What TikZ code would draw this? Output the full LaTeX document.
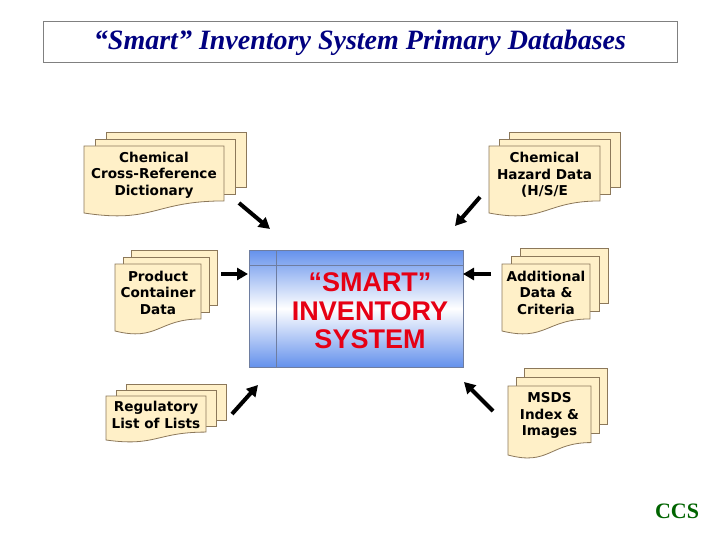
\documentclass[tikz,border=0pt]{standalone}
\usepackage{fontspec}
\setmainfont{Liberation Serif}
\newfontfamily\docfont{DejaVu Sans}
\newfontfamily\boxfont{Liberation Sans}
\usetikzlibrary{arrows.meta}
\definecolor{sheetfill}{RGB}{255,240,200}
\definecolor{sheetline}{RGB}{140,120,90}
\definecolor{navytitle}{RGB}{0,0,128}
\definecolor{boxblue}{RGB}{100,145,236}
\definecolor{boxline}{RGB}{110,125,160}
\definecolor{smartred}{RGB}{230,0,20}
\definecolor{ccsgreen}{RGB}{0,100,0}
\tikzset{
  docsheet/.style={fill=sheetfill, draw=sheetline, line width=0.8pt},
  doctext/.style={align=center, font=\docfont\bfseries\fontsize{13.6}{16.5}\selectfont, inner sep=0pt},
  arr/.style={line width=4pt, -{Triangle[length=11pt,width=12pt]}},
}
% name, x, y, w, h, dx, dy, text
\newcommand{\mdoc}[8]{%
  \path[docsheet] ({#2+2*#6},{#3-2*#7}) rectangle ({#2+#4+2*#6},{#3+0.82*#5-2*#7});
  \path[docsheet] ({#2+#6},{#3-#7}) rectangle ({#2+#4+#6},{#3+0.82*#5-#7});
  \path[docsheet] (#2,#3) -- ({#2+#4},#3) -- ({#2+#4},{#3+0.82*#5})
     .. controls ({#2+0.5*#4},{#3+0.82*#5}) and ({#2+0.5*#4},{#3+1.16*#5}) .. (#2,{#3+#5}) -- cycle;
  \node[doctext] (#1) at ({#2+0.5*#4},{#3+0.43*#5}) {#8};
}
\begin{document}
\begin{tikzpicture}[x=1pt,y=-1pt]
\useasboundingbox[fill=white] (0,0) rectangle (720,540);
% title
\node[draw={rgb,255:red,128;green,128;blue,128}, line width=1pt, minimum width=634pt, minimum height=41pt, inner sep=0pt,
  font=\bfseries\itshape\fontsize{28}{32}\selectfont, text=navytitle] (title) at (360,42.5)
  {“Smart” Inventory System Primary Databases};
% documents
\mdoc{crossref}{84}{146}{140}{67}{11}{7}{Chemical\\Cross-Reference\\Dictionary}
\mdoc{hazard}{489}{146}{111}{67}{10}{7}{Chemical\\Hazard Data\\(H/S/E}
\mdoc{product}{115}{264}{86}{67}{8}{7}{Product\\Container\\Data}
\mdoc{additional}{502}{264}{88}{67}{9}{8}{Additional\\Data \&\\Criteria}
\mdoc{regulatory}{106}{396}{100}{44}{10}{6}{Regulatory\\List of Lists}
\mdoc{msds}{508}{386}{83}{69}{8}{9}{MSDS\\Index \&\\Images}
% central box
\shade[top color=boxblue, bottom color=boxblue, middle color=white] (249,250) rectangle (463,367);
\draw[boxline, line width=0.8pt] (249,250) rectangle (463,367);
\draw[boxline, line width=0.8pt] (276,250) -- (276,367);
\draw[boxline, line width=0.8pt] (249,265) -- (463,265);
\node[align=center, text=smartred, font=\boxfont\bfseries\fontsize{27}{28.5}\selectfont, inner sep=0pt] (smart) at (370,311)
  {“SMART”\\INVENTORY\\SYSTEM};
% arrows
\coordinate (a1s) at (239,203); \coordinate (a1e) at (270,229);
\coordinate (a2s) at (480,197); \coordinate (a2e) at (455,226);
\coordinate (a3s) at (221,274); \coordinate (a3e) at (248,274);
\coordinate (a4s) at (491,274); \coordinate (a4e) at (463,274);
\coordinate (a5s) at (232,414); \coordinate (a5e) at (258,385);
\coordinate (a6s) at (493,411); \coordinate (a6e) at (464,382);
\draw[arr] (a1s) -- (a1e);
\draw[arr] (a2s) -- (a2e);
\draw[arr] (a3s) -- (a3e);
\draw[arr] (a4s) -- (a4e);
\draw[arr] (a5s) -- (a5e);
\draw[arr] (a6s) -- (a6e);
% CCS
\node[text=ccsgreen, font=\bfseries\fontsize{22}{26}\selectfont, inner sep=0pt] (ccs) at (677,511) {CCS};
\end{tikzpicture}
\end{document}
